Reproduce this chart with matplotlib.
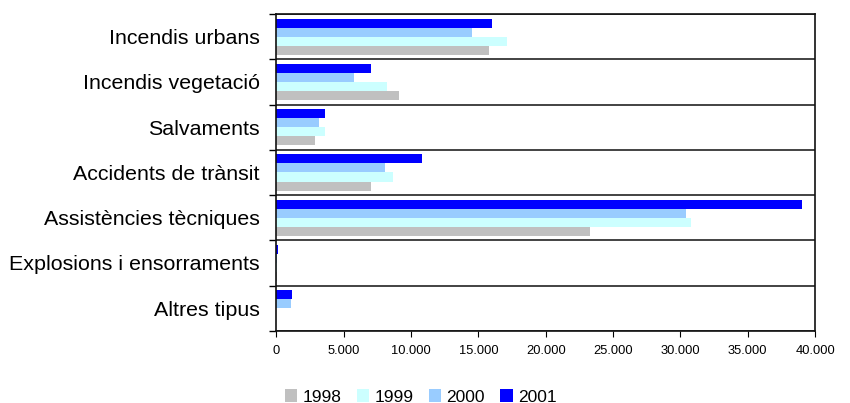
import matplotlib
matplotlib.use("Agg")

import matplotlib.pyplot as plt
import matplotlib.ticker as ticker
import numpy as np

categories = [
    "Incendis urbans",
    "Incendis vegetació",
    "Salvaments",
    "Accidents de trànsit",
    "Assistències tècniques",
    "Explosions i ensorraments",
    "Altres tipus",
]
years = ["1998", "1999", "2000", "2001"]
v1998 = [15800, 9100, 2900, 7000, 23300, 80, 0]
v1999 = [17150, 8200, 3650, 8650, 30800, 50, 0]
v2000 = [14500, 5800, 3150, 8050, 30400, 80, 1100]
v2001 = [16050, 7000, 3600, 10800, 39050, 100, 1200]
colors = ["#C0C0C0", "#CCFFFF", "#99CCFF", "#0000FF"]

plt.rcParams["font.family"] = ["Liberation Sans", "DejaVu Sans"]

fig = plt.figure(figsize=(8.5, 4.03), dpi=100)
ax = fig.add_axes([0.325, 0.179, 0.634, 0.786])

n = len(categories)
pos = np.arange(n)
bar_h = 0.2
series = [v1998, v1999, v2000, v2001]
# 1998 at the bottom of each group, 2001 at the top
for i, (vals, col, yr) in enumerate(zip(series, colors, years)):
    offset = (1.5 - i) * bar_h
    ax.barh(pos + offset, vals, height=bar_h, color=col, label=yr, linewidth=0)

ax.set_ylim(n - 0.5, -0.5)
ax.set_xlim(0, 40000)
ax.set_yticks(pos)
ax.set_yticklabels(categories, fontsize=15.4)
ax.set_yticks(np.arange(n + 1) - 0.5, minor=True)
ax.tick_params(axis="y", which="major", length=0, pad=12)
ax.tick_params(axis="y", which="minor", length=5, direction="out", width=1)
ax.grid(True, axis="y", which="minor", color="#222222", linewidth=1.2)
ax.set_axisbelow(True)

ax.xaxis.set_major_locator(ticker.MultipleLocator(5000))
ax.xaxis.set_major_formatter(
    ticker.FuncFormatter(lambda x, p: f"{int(x):,}".replace(",", "."))
)
ax.tick_params(axis="x", labelsize=9.3, length=4, direction="out", pad=6)

for s in ax.spines.values():
    s.set_color("#111111")
    s.set_linewidth(1.2)

handles, labels = ax.get_legend_handles_labels()
fig.legend(handles, labels, loc="center", bbox_to_anchor=(0.495, 0.015),
           ncol=4, frameon=False, fontsize=12.5, handlelength=0.7,
           handleheight=0.7, handletextpad=0.3, columnspacing=0.9)

fig.savefig("out.png", dpi=100)
